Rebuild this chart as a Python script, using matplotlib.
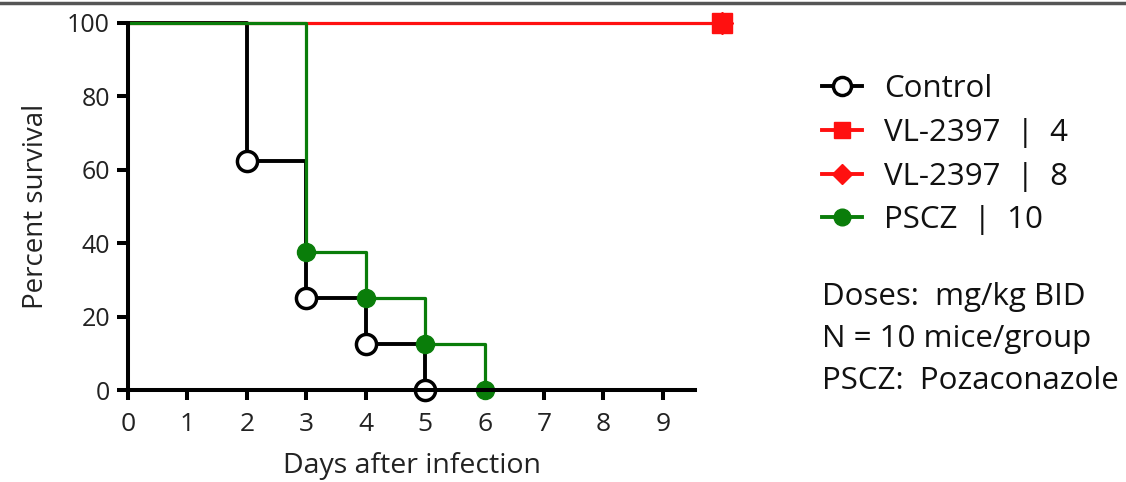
import matplotlib
matplotlib.use("Agg")
from matplotlib import pyplot as plt
from matplotlib.lines import Line2D

plt.rcParams['font.family'] = ['Open Sans', 'DejaVu Sans']

# survival data (percent), events at day
control_days = [0, 2, 3, 4, 5]
control_surv = [100, 62.5, 25, 12.5, 0]
pscz_days = [0, 3, 4, 5, 6]
pscz_surv = [100, 37.5, 25, 12.5, 0]
vl_days = [0, 10]
vl_surv = [100, 100]

x_ticks = list(range(10))
y_ticks = [0, 20, 40, 60, 80, 100]

labels = ["Control", "VL-2397  |  4", "VL-2397  |  8", "PSCZ  |  10"]
notes = ["Doses:  mg/kg BID", "N = 10 mice/group", "PSCZ:  Pozaconazole"]

green = "#0a7d0a"
red = "#ff1010"
txt = "#222222"

fig = plt.figure(figsize=(11.26, 4.82), dpi=100)
ax = fig.add_axes([128 / 1126, 92 / 482, (695 - 128) / 1126, (459 - 92) / 482])

# curves
ax.step(control_days, control_surv, where='post', color='black', lw=2.8, zorder=2, clip_on=False)
ax.plot(vl_days, vl_surv, color=red, lw=2.3, zorder=3, clip_on=False)
ax.step(pscz_days, pscz_surv, where='post', color=green, lw=2.3, zorder=4, clip_on=False)

# event markers
ax.plot(control_days[1:], control_surv[1:], ls='none', marker='o', ms=14.5, mfc='white',
        mec='black', mew=2.5, zorder=5, clip_on=False)
ax.plot(pscz_days[1:], pscz_surv[1:], ls='none', marker='o', ms=13, mfc=green,
        mec=green, zorder=6, clip_on=False)
ax.plot(vl_days[-1:], vl_surv[-1:], ls='none', marker='D', ms=11.2, color=red, zorder=6, clip_on=False)
ax.plot(vl_days[-1:], vl_surv[-1:], ls='none', marker='s', ms=14, color=red, zorder=7, clip_on=False)

ax.set_xlim(0, 9.54)
ax.set_ylim(0, 100)
ax.set_xticks(x_ticks)
ax.set_yticks(y_ticks)
for s in ['top', 'right']:
    ax.spines[s].set_visible(False)
for s in ['left', 'bottom']:
    ax.spines[s].set_linewidth(2.9)
    ax.spines[s].set_zorder(8)
ax.tick_params(axis='both', direction='out', width=2.9, colors='black', labelcolor=txt)
ax.tick_params(axis='y', length=8, pad=5, labelsize=18)
ax.tick_params(axis='x', length=7, pad=9, labelsize=19)
ax.set_xlabel("Days after infection", fontsize=20.5, color=txt, labelpad=11)
ax.set_ylabel("Percent survival", fontsize=20, color=txt, labelpad=12)

# legend
handles = [
    Line2D([], [], color='black', lw=2.8, marker='o', ms=13, mfc='white', mec='black', mew=2.5),
    Line2D([], [], color=red, lw=2.8, marker='s', ms=11),
    Line2D([], [], color=red, lw=2.8, marker='D', ms=10),
    Line2D([], [], color=green, lw=2.8, marker='o', ms=12),
]
fig.legend(handles, labels, loc='upper left', bbox_to_anchor=(809.5 / 1126, 1 - 61.5 / 482),
           frameon=False, fontsize=22.5, handlelength=1.28, handletextpad=0.7,
           labelspacing=0.44, borderaxespad=0, labelcolor='#111111')

for i, t in enumerate(notes):
    fig.text(822 / 1126, 1 - (297 + 42 * i) / 482, t, fontsize=22.5, color='#111111',
             va='center', ha='left')

# top frame line
fig.add_artist(Line2D([0, 1], [1 - 2.5 / 482, 1 - 2.5 / 482], color='#555555', lw=2.5))

fig.savefig("out.png", dpi=100)
